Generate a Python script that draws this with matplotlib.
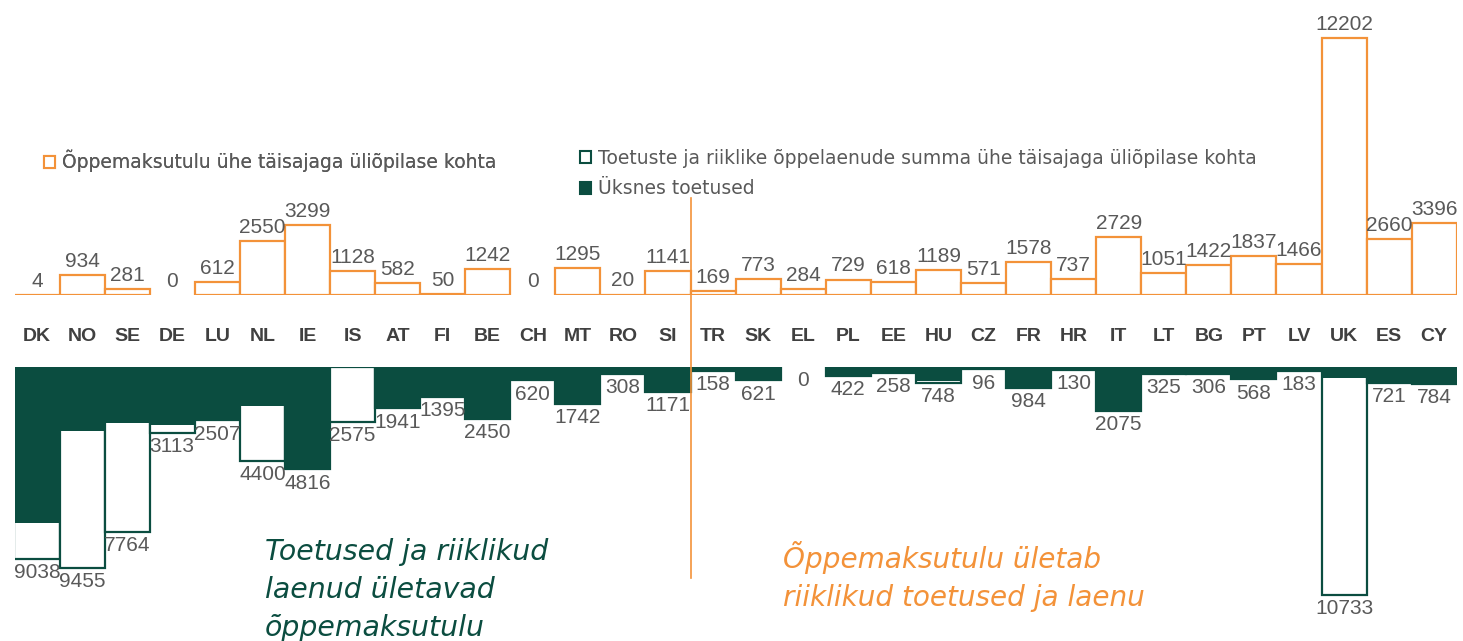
import matplotlib

matplotlib.use("Agg")
import matplotlib.pyplot as plt
from matplotlib.lines import Line2D
from matplotlib.patches import Patch
from matplotlib.transforms import blended_transform_factory

RIIGID = ["DK", "NO", "SE", "DE", "LU", "NL", "IE", "IS", "AT", "FI", "BE",
          "CH", "MT", "RO", "SI", "TR", "SK", "EL", "PL", "EE", "HU", "CZ",
          "FR", "HR", "IT", "LT", "BG", "PT", "LV", "UK", "ES", "CY"]
# õppemaksutulu ühe täisajaga üliõpilase kohta
OPPEMAKSUTULU = [4, 934, 281, 0, 612, 2550, 3299, 1128, 582, 50, 1242,
                 0, 1295, 20, 1141, 169, 773, 284, 729, 618, 1189, 571,
                 1578, 737, 2729, 1051, 1422, 1837, 1466, 12202, 2660, 3396]
# toetuste ja riiklike õppelaenude summa
TOETUSED_JA_LAENUD = [9038, 9455, 7764, 3113, 2507, 4400, 4816, 2575, 1941, 1395, 2450,
                      620, 1742, 308, 1171, 158, 621, 0, 422, 258, 748, 96,
                      984, 130, 2075, 325, 306, 568, 183, 10733, 721, 784]
# üksnes toetused (pildilt hinnatud)
TOETUSED = [7350, 3020, 2650, 2720, 2507, 1830, 4816, 0, 1941, 1395, 2450,
            620, 1742, 308, 1171, 158, 621, 0, 422, 258, 630, 96,
            984, 130, 2075, 325, 306, 568, 183, 500, 721, 784]

ORANZ = "#F39239"
ROHELINE = "#0B4D40"
HALL = "#595959"

W, H = 1463, 641
fig = plt.figure(figsize=(W / 100, H / 100), dpi=100)

vasak = 14.5 / W
laius = 32 * 45.07 / W
x = list(range(len(RIIGID)))

# ülemine paneel: õppemaksutulu
ax_ules = fig.add_axes([vasak, (H - 295) / H, laius, 265 / H])
ax_ules.set_xlim(-0.5, len(RIIGID) - 0.5)
ax_ules.set_ylim(0, 265 / 0.02107)
servad = ["none" if v == 0 else ORANZ for v in OPPEMAKSUTULU]
ax_ules.bar(x, OPPEMAKSUTULU, width=1.0, facecolor="white", edgecolor=servad, linewidth=1.6)
for i, v in enumerate(OPPEMAKSUTULU):
    ax_ules.annotate(str(v), (i, v), xytext=(0, 3), textcoords="offset points",
                     ha="center", va="bottom", fontsize=15, color=HALL,
                     family="Liberation Sans")
for i, riik in enumerate(RIIGID):
    ax_ules.annotate(riik, (i, 0), xytext=(0, -33.2), textcoords="offset points",
                     ha="center", va="baseline", fontsize=14, fontweight="bold",
                     color="#404040", family="Liberation Sans")
ax_ules.set_axis_off()

# alumine paneel: toetused ja laenud
ax_alla = fig.add_axes([vasak, 0, laius, (H - 367.3) / H])
ax_alla.set_xlim(-0.5, len(RIIGID) - 0.5)
ax_alla.set_ylim(-(H - 367.3) / 0.0212, 0)
servad = ["none" if v == 0 else ROHELINE for v in TOETUSED_JA_LAENUD]
ax_alla.bar(x, [-v for v in TOETUSED_JA_LAENUD], width=1.0, facecolor="white",
            edgecolor=servad, linewidth=1.6, zorder=2)
ax_alla.bar(x, [-v for v in TOETUSED], width=1.0, facecolor=ROHELINE,
            edgecolor="none", zorder=3)
for i, v in enumerate(TOETUSED_JA_LAENUD):
    ax_alla.annotate(str(v), (i, -v), xytext=(0, -3), textcoords="offset points",
                     ha="center", va="top", fontsize=15, color=HALL,
                     family="Liberation Sans", zorder=4)
ax_alla.set_axis_off()

# eraldusjoon SI ja TR vahel
joon_tr = blended_transform_factory(ax_ules.transData, fig.transFigure)
fig.add_artist(Line2D([14.5, 14.5], [(H - 578) / H, (H - 198) / H],
                      transform=joon_tr, color=ORANZ, linewidth=1.2))

# legend
legendi_font = {"family": "DejaVu Sans", "size": 13.5}
leg1 = fig.legend(handles=[Patch(facecolor="white", edgecolor=ORANZ, linewidth=1.5,
                                 label="Õppemaksutulu ühe täisajaga üliõpilase kohta")],
                  loc="center left", bbox_to_anchor=(44 / W, (H - 161) / H),
                  frameon=False, handlelength=0.6, handleheight=0.6,
                  handletextpad=0.35, borderpad=0, borderaxespad=0, prop=legendi_font,
                  labelcolor=HALL)
fig.add_artist(leg1)
fig.legend(handles=[Patch(facecolor="white", edgecolor=ROHELINE, linewidth=1.5,
                          label="Toetuste ja riiklike õppelaenude summa ühe täisajaga üliõpilase kohta"),
                    Patch(facecolor=ROHELINE, edgecolor=ROHELINE, linewidth=1.5,
                          label="Üksnes toetused")],
           loc="upper left", bbox_to_anchor=(580 / W, (H - 149) / H),
           frameon=False, handlelength=0.6, handleheight=0.6, handletextpad=0.35,
           labelspacing=0.6, borderpad=0, borderaxespad=0, prop=legendi_font,
           labelcolor=HALL)

# selgitavad tekstid
fig.text(265 / W, (H - 538) / H, "Toetused ja riiklikud\nlaenud ületavad\nõppemaksutulu",
         ha="left", va="top", fontsize=20.4, style="italic", color=ROHELINE,
         linespacing=1.45)
fig.text(783 / W, (H - 541) / H, "Õppemaksutulu ületab\nriiklikud toetused ja laenu",
         ha="left", va="top", fontsize=20.1, style="italic", color=ORANZ,
         linespacing=1.45)

fig.savefig("out.png", dpi=100)
